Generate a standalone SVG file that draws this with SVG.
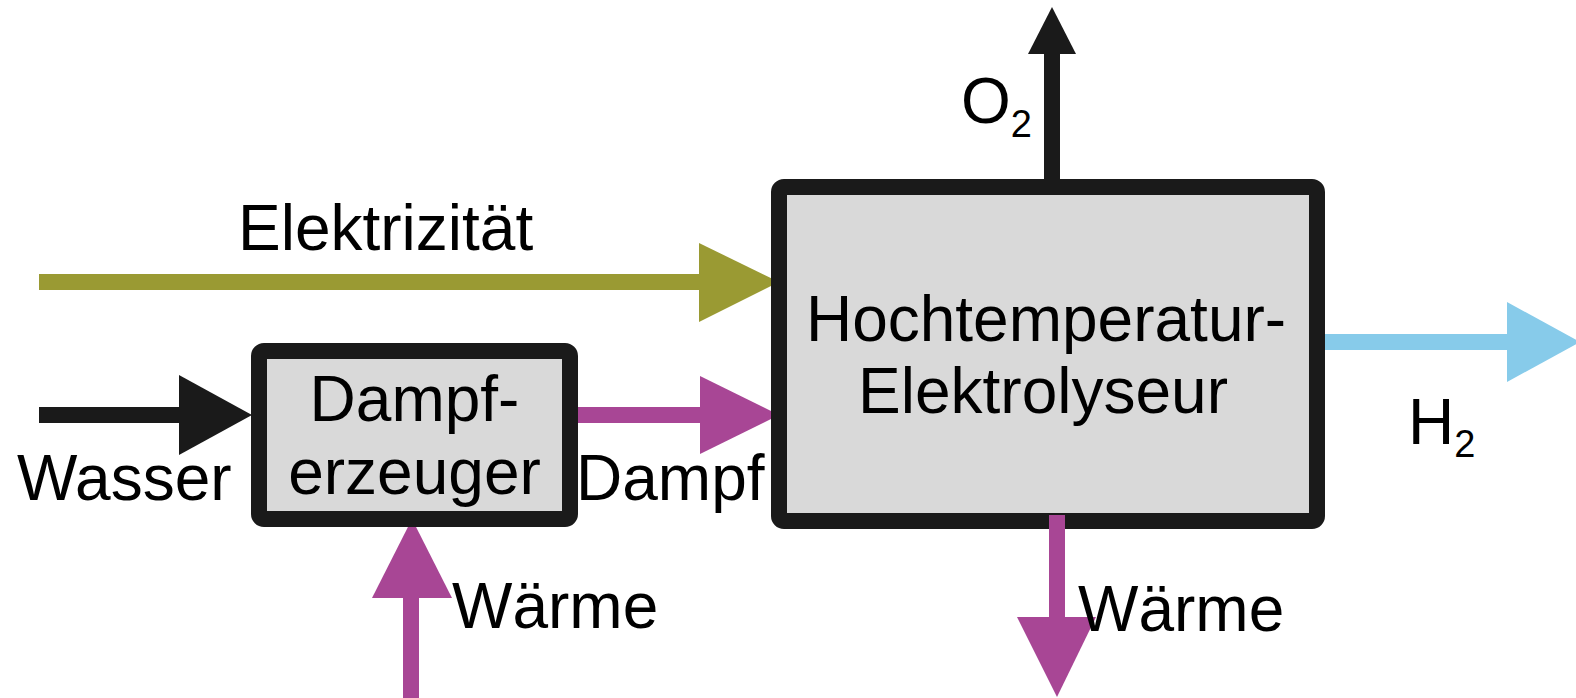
<svg xmlns="http://www.w3.org/2000/svg" width="1576" height="698" viewBox="0 0 1576 698">
<style>
.box{fill:#d9d9d9;stroke:#1a1a1a;stroke-width:16;stroke-linejoin:round}
.t{font-family:"Liberation Sans",Arial,sans-serif;font-size:64px;fill:#000}
.sub{font-size:38px}
</style>
<rect width="1576" height="698" fill="#fff"/>
<g id="connectors">
  <g id="elektrizitaet">
    <rect x="39" y="274" width="662" height="16" fill="#9a9a33"/>
    <polygon points="699,243 779,282 699,322" fill="#9a9a33"/>
  </g>
  <g id="wasser">
    <rect x="39" y="407" width="142" height="16" fill="#1a1a1a"/>
    <polygon points="179,375 252,415 179,455" fill="#1a1a1a"/>
  </g>
  <g id="dampf">
    <rect x="569" y="407" width="133" height="16" fill="#a84695"/>
    <polygon points="700,376 779,415 700,454" fill="#a84695"/>
  </g>
  <g id="waerme-in">
    <rect x="403" y="596" width="16" height="102" fill="#a84695"/>
    <polygon points="372,598 412,519 452,598" fill="#a84695"/>
  </g>
  <g id="o2">
    <rect x="1044" y="52" width="16" height="130" fill="#1a1a1a"/>
    <polygon points="1028,54 1052,7 1076,54" fill="#1a1a1a"/>
  </g>
  <g id="h2">
    <rect x="1317" y="334" width="192" height="16" fill="#87cbea"/>
    <polygon points="1507,302 1580,342 1507,382" fill="#87cbea"/>
  </g>
</g>
<g id="node-dampferzeuger">
  <rect class="box" x="259" y="351" width="311" height="168" rx="5"/>
  <text class="t" x="414.5" y="421" text-anchor="middle">Dampf-</text>
  <text class="t" x="414.5" y="494" text-anchor="middle">erzeuger</text>
</g>
<g id="node-elektrolyseur">
  <rect class="box" x="779" y="187" width="538" height="334" rx="5"/>
  <text class="t" x="1046" y="341" text-anchor="middle">Hochtemperatur-</text>
  <text class="t" x="1043" y="413" text-anchor="middle">Elektrolyseur</text>
</g>
<g id="waerme-out">
  <rect x="1049" y="515" width="16" height="104" fill="#a84695"/>
  <polygon points="1017,617 1057,697 1096,617" fill="#a84695"/>
</g>
<g id="labels">
  <text class="t" x="238" y="250">Elektrizität</text>
  <text class="t" x="17" y="500">Wasser</text>
  <text class="t" x="576" y="500">Dampf</text>
  <text class="t" x="452" y="628">Wärme</text>
  <text class="t" x="1078" y="631">Wärme</text>
  <text class="t" x="961" y="123">O<tspan class="sub" dy="14">2</tspan></text>
  <text class="t" x="1408" y="444">H<tspan class="sub" dy="13">2</tspan></text>
</g>
</svg>
